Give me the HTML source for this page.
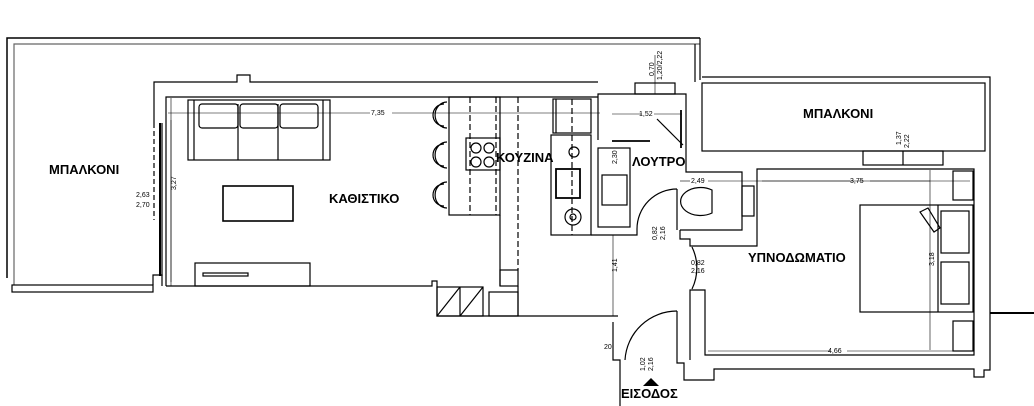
<!DOCTYPE html>
<html><head><meta charset="utf-8"><style>
html,body{margin:0;padding:0;background:#fff;}
svg{display:block}
text{font-family:"Liberation Sans",sans-serif;fill:#000}
.l{font-size:13px;font-weight:bold}
.d{font-size:7px}
</style></head><body>
<svg width="1034" height="406" viewBox="0 0 1034 406" xmlns="http://www.w3.org/2000/svg">
<g fill="none" stroke="#000" stroke-width="1.2">
<!-- left balcony -->
<polyline points="7,278 7,38 700,38" stroke-width="1.5"/>
<polyline points="14,285 14,44 700,44" stroke="#666"/>
<rect x="12" y="285" width="141" height="7"/>
<polyline points="700,38 700,80"/>
<polyline points="695,44 695,82"/>
<!-- living outer -->
<polyline points="154,123 154,82 237,82 237,75 250,75 250,82 598,82"/>
<polyline points="166,286 166,97 598,97"/>
<polyline points="153,285 153,275 162,275 162,286"/>
<line x1="160" y1="123" x2="160" y2="276" stroke-width="2"/>
<line x1="162" y1="123" x2="162" y2="276"/>
<line x1="154" y1="123" x2="154" y2="220" stroke-dasharray="5,3"/>
<polyline points="166,286 432,286 432,281 437,281 437,316 618,316"/>
<line x1="171" y1="98" x2="171" y2="286" stroke-width="0.6"/>
<!-- sofa -->
<rect x="188" y="100" width="142" height="60"/>
<line x1="194" y1="100" x2="194" y2="160"/><line x1="323" y1="100" x2="323" y2="160"/>
<rect x="199" y="104" width="39" height="24" rx="3"/><rect x="240" y="104" width="38" height="24" rx="3"/><rect x="280" y="104" width="38" height="24" rx="3"/>
<line x1="238" y1="104" x2="238" y2="160"/><line x1="278" y1="104" x2="278" y2="160"/>
<rect x="223" y="186" width="70" height="35" stroke-width="1.6"/>
<rect x="195" y="263" width="115" height="23"/>
<rect x="203" y="273" width="45" height="3"/>
<!-- stools -->
<path d="M447,102 A11,12 0 0 0 447,128 M444,104 A9,9 0 0 0 444,126"/>
<path d="M447,142 A11,12 0 0 0 447,168 M444,144 A9,9 0 0 0 444,166"/>
<path d="M447,182 A11,12 0 0 0 447,208 M444,184 A9,9 0 0 0 444,206"/>
<!-- island -->
<rect x="449" y="97" width="51" height="118"/>
<rect x="466" y="138" width="34" height="32"/>
<circle cx="476" cy="148" r="5"/><circle cx="489" cy="148" r="5"/><circle cx="476" cy="162" r="5"/><circle cx="489" cy="162" r="5"/>
<g stroke-dasharray="6,3"><line x1="470" y1="97" x2="470" y2="215"/><line x1="496" y1="97" x2="496" y2="215"/><line x1="518" y1="97" x2="518" y2="270"/></g>
<line x1="500" y1="215" x2="500" y2="286"/>
<rect x="500" y="270" width="18" height="16"/>
<line x1="518" y1="286" x2="518" y2="316"/>
<rect x="437" y="287" width="46" height="29"/><line x1="460" y1="287" x2="460" y2="316"/>
<line x1="437" y1="316" x2="460" y2="287"/><line x1="460" y1="316" x2="483" y2="287"/>
<rect x="489" y="292" width="29" height="24"/>
<!-- kitchen counter -->
<rect x="553" y="99" width="38" height="34"/><line x1="556" y1="99" x2="556" y2="133"/>
<rect x="551" y="135" width="40" height="100"/>
<rect x="556" y="169" width="24" height="29" stroke-width="1.8"/>
<circle cx="574" cy="152" r="5"/><circle cx="573" cy="217" r="8"/><circle cx="573" cy="217" r="3"/>
<line x1="572" y1="99" x2="572" y2="235" stroke-dasharray="6,3"/>
<polyline points="591,235 637,235 637,229"/>
<!-- bathroom -->
<rect x="635" y="83" width="40" height="11"/>
<polyline points="598,140 598,94 686,94 686,172 742,172 742,230 680,230"/>
<line x1="612" y1="141" x2="650" y2="141" stroke-width="1.8"/>
<line x1="657" y1="119" x2="683" y2="145"/><line x1="681" y1="110" x2="681" y2="148" stroke-width="1.8"/>
<rect x="598" y="148" width="32" height="79"/>
<rect x="602" y="175" width="25" height="30"/>
<path d="M637,229 A40,40 0 0 1 677,189"/><line x1="677" y1="189" x2="677" y2="230"/>
<path d="M712,190 A20,14 0 1 0 712,213 Z"/><rect x="742" y="186" width="12" height="30"/>
<!-- corridor & entrance -->
<polyline points="680,230 680,239 690,239 690,246 757,246 757,169 974,169 974,355 705,355 705,290 690,290 690,360"/>
<path d="M692,247 A48,48 0 0 1 692,289"/>
<polyline points="613,322 613,360 620,360 620,406"/>
<polyline points="677,311 677,363 684,363 684,380 714,380 714,369 974,369 974,377 984,377 984,370 990,370 990,77 702,77"/>
<path d="M625,360 A52,52 0 0 1 677,311"/>
<!-- right balcony -->
<rect x="702" y="83" width="283" height="68"/>
<rect x="863" y="151" width="80" height="14"/><line x1="903" y1="151" x2="903" y2="165"/>
<!-- bed -->
<rect x="860" y="205" width="113" height="107"/>
<line x1="938" y1="205" x2="938" y2="312"/>
<rect x="941" y="211" width="28" height="42"/><rect x="941" y="262" width="28" height="42"/>
<polygon points="920,212 928,208 940,228 934,232"/>
<rect x="953" y="171" width="20" height="29"/><rect x="953" y="321" width="20" height="30"/>
<line x1="990" y1="313" x2="1034" y2="313" stroke-width="2"/>
</g>
<!-- dims -->
<g stroke="#000" stroke-width="0.6">
<line x1="168" y1="113" x2="370" y2="113"/><line x1="392" y1="113" x2="600" y2="113"/>
<line x1="171" y1="120" x2="171" y2="282"/>
<line x1="612" y1="114" x2="642" y2="114"/><line x1="654" y1="114" x2="682" y2="114"/>
<line x1="680" y1="181" x2="690" y2="181"/><line x1="708" y1="181" x2="930" y2="181"/>
<line x1="762" y1="181" x2="850" y2="181"/><line x1="870" y1="181" x2="970" y2="181"/>
<line x1="930" y1="170" x2="930" y2="350"/>
<line x1="613" y1="235" x2="613" y2="316"/>
<line x1="708" y1="351" x2="830" y2="351"/><line x1="847" y1="351" x2="970" y2="351"/>
<line x1="655" y1="55" x2="655" y2="94"/>
</g>
<polygon points="643,386 651,378 659,386" fill="#000"/>
<text class="l" x="49" y="174">ΜΠΑΛΚΟΝΙ</text>
<text class="l" x="329" y="203">ΚΑΘΙΣΤΙΚΟ</text>
<text class="l" x="496" y="162">ΚΟΥΖΙΝΑ</text>
<text class="l" x="632" y="166">ΛΟΥΤΡΟ</text>
<text class="l" x="803" y="118">ΜΠΑΛΚΟΝΙ</text>
<text class="l" x="748" y="262">ΥΠΝΟΔΩΜΑΤΙΟ</text>
<text class="l" x="621" y="398">ΕΙΣΟΔΟΣ</text>
<text class="d" x="371" y="115">7,35</text>
<text class="d" x="639" y="116">1,52</text>
<text class="d" x="691" y="183">2,49</text>
<text class="d" x="850" y="183">3,75</text>
<text class="d" x="828" y="353">4,66</text>
<text class="d" x="136" y="197">2,63</text>
<text class="d" x="136" y="207">2,70</text>
<text class="d" x="691" y="265">0,82</text>
<text class="d" x="691" y="273">2,16</text>
<text class="d" x="604" y="349">20</text>
<g class="d" font-size="7">
<text transform="translate(176,190) rotate(-90)" class="d">3,27</text>
<text transform="translate(617,164) rotate(-90)" class="d">2,30</text>
<text transform="translate(617,272) rotate(-90)" class="d">1,41</text>
<text transform="translate(657,240) rotate(-90)" class="d">0,82</text>
<text transform="translate(665,240) rotate(-90)" class="d">2,16</text>
<text transform="translate(645,371) rotate(-90)" class="d">1,02</text>
<text transform="translate(653,371) rotate(-90)" class="d">2,16</text>
<text transform="translate(654,76) rotate(-90)" class="d">0,70</text>
<text transform="translate(662,80) rotate(-90)" class="d">1,20/2,22</text>
<text transform="translate(901,145) rotate(-90)" class="d">1,37</text>
<text transform="translate(909,148) rotate(-90)" class="d">2,22</text>
<text transform="translate(934,266) rotate(-90)" class="d">3,18</text>
</g>
</svg>
</body></html>
